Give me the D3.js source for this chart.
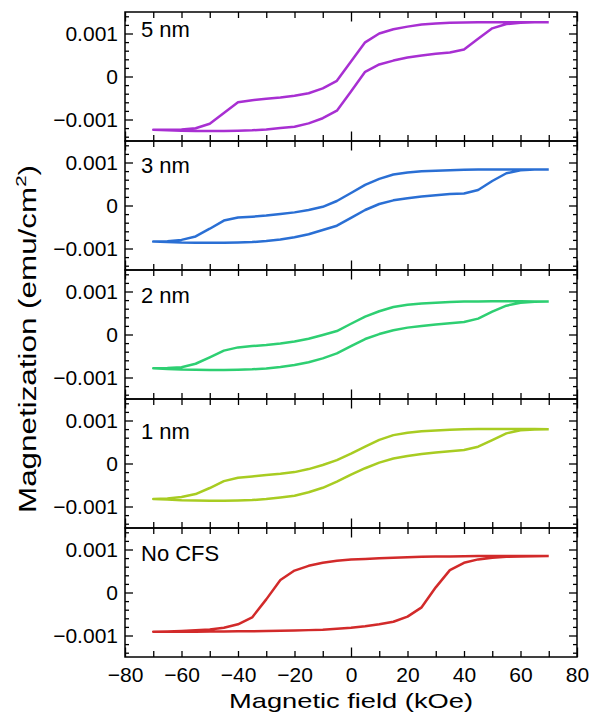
<!DOCTYPE html>
<html>
<head>
<meta charset="utf-8">
<script src="https://cdn.jsdelivr.net/npm/d3@7"></script>
<style>
    body { margin: 0; background: #fff; }
    svg text { font-family: "Liberation Sans", Arial, sans-serif; fill: #000; }
</style>
</head>
<body>
<div id="chart"></div>
<script>
// Applied field (kOe), sampled every 5 kOe
const fields = [-70, -65, -60, -55, -50, -45, -40, -35, -30, -25, -20, -15, -10, -5, 0,
    5, 10, 15, 20, 25, 30, 35, 40, 45, 50, 55, 60, 65, 70];

// Sample names, top panel first
const samples = ["5 nm", "3 nm", "2 nm", "1 nm", "No CFS"];
const sampleColors = ["#a82fd2", "#2a6fd4", "#2ecf72", "#a8cc22", "#d22a2a"];

// Magnetization in units of 0.001 emu/cm^2
// "down" = branch swept from +70 to -70, "up" = branch swept from -70 to +70 (both listed at ascending field)
const down5nm = [-1.24, -1.24, -1.23, -1.205, -1.1, -0.85, -0.6, -0.55, -0.52, -0.49, -0.45, -0.39, -0.275, -0.1, 0.35,
    0.795, 1.0, 1.1, 1.16, 1.21, 1.235, 1.25, 1.255, 1.26, 1.26, 1.26, 1.26, 1.26, 1.26];
const up5nm = [-1.24, -1.25, -1.26, -1.265, -1.27, -1.265, -1.26, -1.25, -1.23, -1.2, -1.17, -1.09, -0.97, -0.795, -0.35,
    0.11, 0.28, 0.37, 0.44, 0.49, 0.53, 0.56, 0.63, 0.88, 1.12, 1.22, 1.25, 1.26, 1.26];

const down3nm = [-0.84, -0.83, -0.8, -0.72, -0.54, -0.35, -0.28, -0.26, -0.235, -0.2, -0.16, -0.105, -0.03, 0.105, 0.29,
    0.48, 0.62, 0.72, 0.77, 0.795, 0.81, 0.82, 0.83, 0.835, 0.84, 0.84, 0.84, 0.84, 0.84];
const up3nm = [-0.84, -0.85, -0.86, -0.865, -0.865, -0.865, -0.86, -0.85, -0.825, -0.79, -0.74, -0.67, -0.57, -0.47, -0.29,
    -0.105, 0.035, 0.12, 0.17, 0.21, 0.24, 0.265, 0.28, 0.36, 0.57, 0.75, 0.82, 0.835, 0.84];

const down2nm = [-0.785, -0.78, -0.76, -0.68, -0.53, -0.375, -0.3, -0.27, -0.245, -0.21, -0.165, -0.1, -0.01, 0.08, 0.25,
    0.415, 0.54, 0.64, 0.69, 0.72, 0.74, 0.755, 0.765, 0.77, 0.775, 0.775, 0.775, 0.77, 0.765];
const up2nm = [-0.785, -0.8, -0.815, -0.82, -0.825, -0.825, -0.82, -0.81, -0.79, -0.755, -0.71, -0.645, -0.555, -0.44, -0.27,
    -0.105, 0.01, 0.1, 0.16, 0.2, 0.235, 0.26, 0.29, 0.37, 0.53, 0.67, 0.74, 0.76, 0.765];

const down1nm = [-0.825, -0.815, -0.78, -0.71, -0.57, -0.41, -0.33, -0.3, -0.27, -0.24, -0.2, -0.13, -0.035, 0.08, 0.23,
    0.39, 0.55, 0.66, 0.715, 0.75, 0.77, 0.785, 0.795, 0.8, 0.805, 0.805, 0.805, 0.8, 0.795];
const up1nm = [-0.825, -0.84, -0.855, -0.86, -0.865, -0.865, -0.86, -0.85, -0.825, -0.79, -0.75, -0.67, -0.565, -0.42, -0.26,
    -0.11, 0.02, 0.115, 0.175, 0.22, 0.255, 0.285, 0.315, 0.39, 0.545, 0.7, 0.775, 0.79, 0.795];

const downNoCFS = [-0.91, -0.905, -0.895, -0.88, -0.86, -0.82, -0.74, -0.58, -0.16, 0.29, 0.51, 0.62, 0.69, 0.74, 0.765,
    0.78, 0.795, 0.81, 0.82, 0.83, 0.835, 0.84, 0.845, 0.85, 0.85, 0.85, 0.85, 0.85, 0.85];
const upNoCFS = [-0.91, -0.91, -0.91, -0.91, -0.905, -0.905, -0.9, -0.9, -0.895, -0.89, -0.885, -0.875, -0.865, -0.845, -0.82,
    -0.785, -0.74, -0.68, -0.56, -0.345, 0.12, 0.52, 0.69, 0.77, 0.81, 0.83, 0.84, 0.845, 0.85];

const downBranches = [down5nm, down3nm, down2nm, down1nm, downNoCFS];
const upBranches = [up5nm, up3nm, up2nm, up1nm, upNoCFS];

// Axis ticks and labels
const xLabelTicks = [-80, -60, -40, -20, 0, 20, 40, 60, 80];
const xMajorTicks = [-80, 0, 80];
const xMinorTicks = [-70, -60, -50, -40, -30, -20, -10, 10, 20, 30, 40, 50, 60, 70];
const yLabelTicks = [-1, 0, 1];
const yLabels = ["\u22120.001", "0", "0.001"];
const yMinorTicks = [-1.4, -1.2, -0.8, -0.6, -0.4, -0.2, 0.2, 0.4, 0.6, 0.8, 1.2, 1.4];

// Layout
const W = 593, H = 715;
const left = 125, right = 577;
const panelTop = 12, panelH = 129;
const labelDy = [25, 32, 33, 40, 33];

const svg = d3.select("#chart").append("svg")
    .attr("width", W)
    .attr("height", H);

const x = d3.scaleLinear().domain([-80, 80]).range([left, right]);

samples.forEach((name, i) => {
    const top = panelTop + i * panelH;
    const bottom = top + panelH;
    const y = d3.scaleLinear().domain([-1.5, 1.5]).range([bottom, top]);

    const g = svg.append("g").attr("class", "panel");

    // hysteresis loop: down branch from +70 to -70, then up branch back to +70
    const loop = [];
    for (let k = fields.length - 1; k >= 0; k--) loop.push([fields[k], downBranches[i][k]]);
    for (let k = 0; k < fields.length; k++) loop.push([fields[k], upBranches[i][k]]);

    const line = d3.line()
        .x(d => x(d[0]))
        .y(d => y(d[1]));

    g.append("path")
        .datum(loop)
        .attr("d", line)
        .attr("fill", "none")
        .attr("stroke", sampleColors[i])
        .attr("stroke-width", 2.5)
        .attr("stroke-linejoin", "round");

    // inward ticks on all four sides
    const tickAxis = (axis, tx, ty) => {
        const a = g.append("g")
            .attr("transform", `translate(${tx},${ty})`)
            .call(axis.tickFormat(""));
        a.select(".domain").remove();
        a.selectAll("line").attr("stroke", "#000").attr("stroke-width", 1.3);
    };
    tickAxis(d3.axisTop(x).tickValues(xMinorTicks).tickSize(6), 0, bottom);
    tickAxis(d3.axisTop(x).tickValues(xMajorTicks).tickSize(9.5), 0, bottom);
    tickAxis(d3.axisBottom(x).tickValues(xMinorTicks).tickSize(6), 0, top);
    tickAxis(d3.axisBottom(x).tickValues(xMajorTicks).tickSize(9.5), 0, top);
    tickAxis(d3.axisRight(y).tickValues(yMinorTicks).tickSize(4), left, 0);
    tickAxis(d3.axisRight(y).tickValues(yLabelTicks).tickSize(8), left, 0);
    tickAxis(d3.axisLeft(y).tickValues(yMinorTicks).tickSize(4), right, 0);
    tickAxis(d3.axisLeft(y).tickValues(yLabelTicks).tickSize(8), right, 0);

    // y tick labels
    const yAxis = g.append("g")
        .attr("transform", `translate(${left},0)`)
        .call(d3.axisLeft(y).tickValues(yLabelTicks).tickSize(0).tickPadding(7)
            .tickFormat((d, j) => yLabels[j]));
    yAxis.select(".domain").remove();
    yAxis.selectAll("text").style("font-size", "21px").style("font-family", "Liberation Sans, Arial, sans-serif");

    // frame
    g.append("rect")
        .attr("x", left)
        .attr("y", top)
        .attr("width", right - left)
        .attr("height", panelH)
        .attr("fill", "none")
        .attr("stroke", "#000")
        .attr("stroke-width", 1.5);

    g.append("text")
        .attr("x", left + 16)
        .attr("y", top + labelDy[i])
        .style("font-size", "22px")
        .text(name);

    // x tick labels only on the bottom panel
    if (i === samples.length - 1) {
        const xAxis = g.append("g")
            .attr("transform", `translate(0,${bottom})`)
            .call(d3.axisBottom(x).tickValues(xLabelTicks).tickSize(0).tickPadding(10)
                .tickFormat(d => d < 0 ? "\u2212" + Math.abs(d) : d));
        xAxis.select(".domain").remove();
        xAxis.selectAll("text").style("font-size", "21px").style("font-family", "Liberation Sans, Arial, sans-serif");
    }
});

// axis titles
svg.append("text")
    .attr("x", 351)
    .attr("y", 708)
    .attr("text-anchor", "middle")
    .attr("textLength", 244)
    .attr("lengthAdjust", "spacingAndGlyphs")
    .style("font-size", "21px")
    .text("Magnetic field (kOe)");

const yTitle = svg.append("text")
    .attr("transform", "translate(36,339) rotate(-90)")
    .attr("text-anchor", "middle")
    .attr("textLength", 348)
    .attr("lengthAdjust", "spacingAndGlyphs")
    .style("font-size", "23px");
yTitle.append("tspan").text("Magnetization (emu/cm");
yTitle.append("tspan").attr("dy", -10).style("font-size", "15px").text("2");
yTitle.append("tspan").attr("dy", 10).text(")");
</script>
</body>
</html>
